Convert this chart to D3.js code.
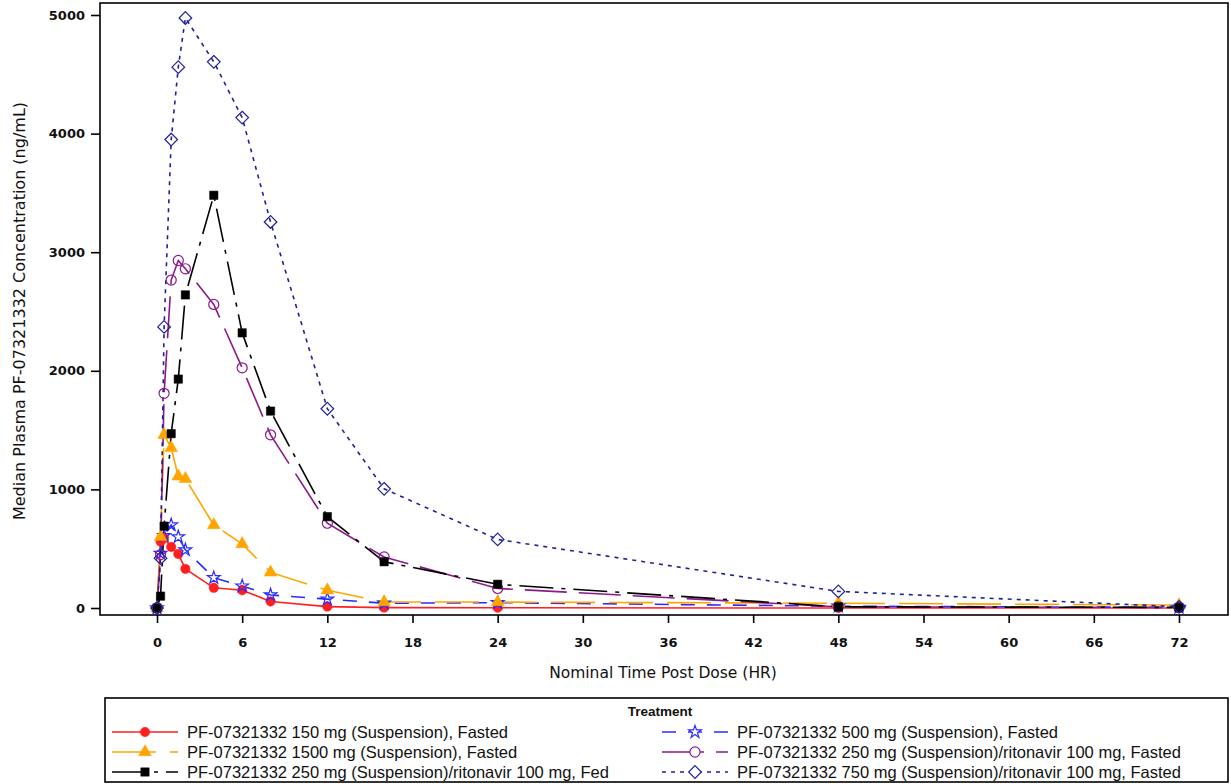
<!DOCTYPE html>
<html>
<head>
<meta charset="utf-8">
<script src="https://cdn.jsdelivr.net/npm/d3@7"></script>
<style>
  body { margin: 0; background: #fff; }
  svg { display: block; font-family: "DejaVu Sans", Verdana, sans-serif; }
</style>
</head>
<body>
<div id="chart"></div>
<script>
// nominal sampling times (hr)
var times = [0, 0.25, 0.5, 1, 1.5, 2, 4, 6, 8, 12, 16, 24, 48, 72];

// median plasma concentrations (ng/mL)
var conc150 = [0, 560, 590, 515, 455, 330, 170, 150, 55, 12, 3, 2, 0, 0];
var conc500 = [0, 460, 610, 700, 600, 490, 255, 185, 110, 75, 40, 45, 15, 5];
var conc1500 = [0, 600, 1460, 1350, 1110, 1090, 700, 540, 300, 150, 50, 50, 40, 25];
var conc250rFasted = [0, 450, 1810, 2765, 2930, 2860, 2560, 2025, 1460, 715, 430, 165, 10, 5];
var conc250rFed = [0, 100, 690, 1470, 1930, 2640, 3480, 2320, 1660, 770, 390, 200, 10, 5];
var conc750r = [0, 420, 2370, 3950, 4560, 4975, 4605, 4135, 3255, 1680, 1005, 578, 140, 10];

var treatments = [
  "PF-07321332 150 mg (Suspension), Fasted",
  "PF-07321332 500 mg (Suspension), Fasted",
  "PF-07321332 1500 mg (Suspension), Fasted",
  "PF-07321332 250 mg (Suspension)/ritonavir 100 mg, Fasted",
  "PF-07321332 250 mg (Suspension)/ritonavir 100 mg, Fed",
  "PF-07321332 750 mg (Suspension)/ritonavir 100 mg, Fasted"
];

var xTicks = [0, 6, 12, 18, 24, 30, 36, 42, 48, 54, 60, 66, 72];
var yTicks = [0, 1000, 2000, 3000, 4000, 5000];

// square turned 45deg, closer to the SAS diamond than d3.symbolDiamond
var squareDiamond = {
  draw: function(ctx, size) {
    var r = Math.sqrt(size / 2);
    ctx.moveTo(0, -r); ctx.lineTo(r, 0); ctx.lineTo(0, r); ctx.lineTo(-r, 0); ctx.closePath();
  }
};

// style for each treatment (same order as above)
var styles = [
  {color: "#ff1f1f", dash: null, symbol: d3.symbolCircle, size: 70, fill: true},
  {color: "#2b2bff", dash: "14,12", symbol: d3.symbolStar, size: 50, fill: false},
  {color: "#ffa500", dash: "44,14", symbol: d3.symbolTriangle, size: 70, fill: true},
  {color: "#8b1a8b", dash: "42,12", symbol: d3.symbolCircle, size: 80, fill: false},
  {color: "#000000", dash: "34,8,4,8", symbol: d3.symbolSquare, size: 70, fill: true},
  {color: "#20209a", dash: "4,5", symbol: squareDiamond, size: 80, fill: false}
];

var allConc = [conc150, conc500, conc1500, conc250rFasted, conc250rFed, conc750r];

var series = treatments.map(function(name, i) {
  return {
    name: name,
    style: styles[i],
    points: times.map(function(t, j) { return {t: t, v: allConc[i][j]}; })
  };
});

var width = 1231, height = 784;
var plot = {left: 100, right: 1228, top: 3, bottom: 615};

var svg = d3.select("#chart").append("svg")
  .attr("width", width).attr("height", height);

var x = d3.scaleLinear().domain([0, 72]).range([157, 1179]);
var y = d3.scaleLinear().domain([0, 5000]).range([608, 15]);

// frame
svg.append("rect")
  .attr("x", plot.left).attr("y", plot.top)
  .attr("width", plot.right - plot.left).attr("height", plot.bottom - plot.top)
  .attr("fill", "none").attr("stroke", "#000").attr("stroke-width", 1.6);

// axes
var xAxis = svg.append("g")
  .attr("transform", "translate(0," + plot.bottom + ")")
  .call(d3.axisBottom(x).tickValues(xTicks).tickSize(8).tickPadding(15));
var yAxis = svg.append("g")
  .attr("transform", "translate(" + plot.left + ",0)")
  .call(d3.axisLeft(y).tickValues(yTicks).tickSize(9).tickPadding(6).tickFormat(d3.format("d")));

[xAxis, yAxis].forEach(function(a) {
  a.select(".domain").remove();
  a.selectAll(".tick line").attr("stroke", "#000").attr("stroke-width", 1.6);
  a.selectAll(".tick text")
    .attr("fill", "#111")
    .style("font-family", "'DejaVu Sans', Verdana, sans-serif")
    .style("font-size", "13px")
    .style("font-weight", "bold");
});

// axis titles
svg.append("text")
  .attr("x", 663).attr("y", 678)
  .attr("text-anchor", "middle")
  .style("font-size", "15.5px")
  .attr("fill", "#111")
  .text("Nominal Time Post Dose (HR)");

svg.append("text")
  .attr("transform", "translate(25,311) rotate(-90)")
  .attr("text-anchor", "middle")
  .style("font-size", "16px")
  .attr("fill", "#111")
  .text("Median Plasma PF-07321332 Concentration (ng/mL)");

// lines
var line = d3.line()
  .x(function(d) { return x(d.t); })
  .y(function(d) { return y(d.v); });

series.forEach(function(s) {
  svg.append("path")
    .datum(s.points)
    .attr("d", line)
    .attr("fill", "none")
    .attr("stroke", s.style.color)
    .attr("stroke-width", 1.6)
    .attr("stroke-dasharray", s.style.dash);
});

// markers
series.forEach(function(s) {
  var sym = d3.symbol().type(s.style.symbol).size(s.style.size);
  svg.append("g").selectAll("path")
    .data(s.points)
    .enter().append("path")
    .attr("transform", function(d) { return "translate(" + x(d.t) + "," + y(d.v) + ")"; })
    .attr("d", sym)
    .attr("fill", s.style.fill ? s.style.color : "none")
    .attr("stroke", s.style.color)
    .attr("stroke-width", s.style.fill ? 0.5 : 1.2);
});

// legend
var leg = svg.append("g");
leg.append("rect")
  .attr("x", 105).attr("y", 698).attr("width", 1123).attr("height", 84)
  .attr("fill", "#fff").attr("stroke", "#000").attr("stroke-width", 1.6);
leg.append("text")
  .attr("x", 660).attr("y", 716)
  .attr("text-anchor", "middle")
  .style("font-family", "'Liberation Sans', Arial, sans-serif")
  .style("font-size", "13.5px").style("font-weight", "bold")
  .attr("fill", "#111")
  .text("Treatment");

var legCols = [112, 662], legRows = [732, 752, 772];
series.forEach(function(s, i) {
  var lx = legCols[i % 2], ly = legRows[Math.floor(i / 2)];
  var g = leg.append("g");
  g.append("line")
    .attr("x1", lx).attr("x2", lx + 66).attr("y1", ly).attr("y2", ly)
    .attr("stroke", s.style.color).attr("stroke-width", 1.6)
    .attr("stroke-dasharray", s.style.dash);
  g.append("path")
    .attr("transform", "translate(" + (lx + 33) + "," + ly + ")")
    .attr("d", d3.symbol().type(s.style.symbol).size(s.style.size)())
    .attr("fill", s.style.fill ? s.style.color : "#fff")
    .attr("stroke", s.style.color)
    .attr("stroke-width", s.style.fill ? 0.5 : 1.2);
  g.append("text")
    .attr("x", lx + 75).attr("y", ly + 6)
    .style("font-family", "'Liberation Sans', Arial, sans-serif")
    .style("font-size", "16.5px")
    .attr("fill", "#111")
    .text(s.name);
});
</script>
</body>
</html>
